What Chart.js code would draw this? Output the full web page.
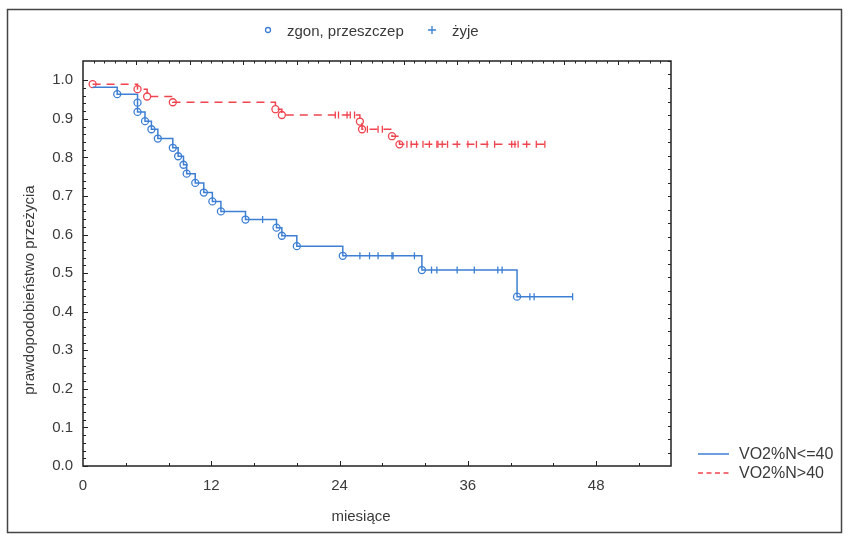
<!DOCTYPE html>
<html>
<head>
<meta charset="utf-8">
<script src="https://cdn.jsdelivr.net/npm/chart.js@4.4.1/dist/chart.umd.min.js"></script>
<style>
body { margin: 0; background: #fff; }
#wrap { width: 848px; height: 536px; position: relative; }
</style>
</head>
<body>
<div id="wrap"><canvas id="kmChart"></canvas></div>
<script>
// axis ticks
const xTicks = [0, 12, 24, 36, 48];
const yTicks = [0.0, 0.1, 0.2, 0.3, 0.4, 0.5, 0.6, 0.7, 0.8, 0.9, 1.0];

// VO2%N<=40 : event times (months) and survival after each event
const lowTimes = [0.9, 3.2, 5.1, 5.1, 5.8, 6.4, 7.0, 8.4, 8.9, 9.4, 9.7, 10.5, 11.3, 12.1, 12.9, 15.2, 18.1, 18.6, 20.0, 24.3, 31.7, 40.6];
const lowSurv = [0.982, 0.964, 0.942, 0.918, 0.894, 0.873, 0.849, 0.825, 0.803, 0.781, 0.758, 0.734, 0.709, 0.686, 0.660, 0.639, 0.618, 0.597, 0.570, 0.545, 0.508, 0.439];
const lowCensored = [16.8, 25.9, 26.8, 27.6, 28.9, 29.0, 31.0, 32.6, 33.1, 35.0, 36.6, 38.8, 39.2, 41.8, 42.2, 45.8];

// VO2%N>40
const highTimes = [0.9, 5.1, 6.0, 8.4, 18.0, 18.6, 25.9, 26.1, 28.9, 29.6];
const highSurv = [0.990, 0.977, 0.958, 0.943, 0.925, 0.910, 0.893, 0.873, 0.855, 0.834];
const highCensored = [23.6, 23.9, 24.7, 25.0, 25.4, 26.6, 27.6, 28.0, 30.3, 30.7, 31.2, 31.8, 32.4, 33.1, 33.2, 33.6, 34.1, 35.0, 36.0, 36.8, 37.8, 38.5, 40.1, 40.4, 40.7, 41.5, 42.4, 43.2];

const BLUE = '#3d7fd3';
const RED = '#f0444f';
const FONT = '"Liberation Sans", Arial, sans-serif';

// survival level of a step curve at time t
function levelAt(times, surv, t) {
    let s = surv[0];
    times.forEach((tt, i) => { if (tt <= t) s = surv[i]; });
    return s;
}

function curvePoints(times, surv, censored) {
    const pts = times.map((t, i) => ({ x: t, y: surv[i] }));
    const end = censored[censored.length - 1];
    pts.push({ x: end, y: levelAt(times, surv, end) });
    return pts;
}

function eventPoints(times, surv) {
    return times.map((t, i) => ({ x: t, y: surv[i] }));
}

function censorPoints(times, surv, censored) {
    return censored.map(t => ({ x: t, y: levelAt(times, surv, t) }));
}

// frame, inward ticks, axis titles and both legends
const decorations = {
    id: 'decorations',
    afterDraw(chart) {
        const ctx = chart.ctx;
        const a = chart.chartArea;
        const xs = chart.scales.x;
        const ys = chart.scales.y;
        ctx.save();

        // outer frame
        ctx.strokeStyle = '#444';
        ctx.lineWidth = 1.5;
        ctx.strokeRect(7.5, 9.5, 834, 523);

        // plot box
        ctx.strokeStyle = '#222';
        ctx.lineWidth = 1.5;
        ctx.strokeRect(a.left, a.top, a.right - a.left, a.bottom - a.top);

        ctx.lineWidth = 1;
        ctx.beginPath();
        for (let v = 0; v <= 1.0001; v += 0.02) {
            const y = Math.round(ys.getPixelForValue(v)) + 0.5;
            const major = Math.abs(v * 10 - Math.round(v * 10)) < 0.001;
            ctx.moveTo(a.left, y);
            ctx.lineTo(a.left + (major ? 5 : 3), y);
        }
        for (let v = 1.05; v > 0; v -= 0.035) {
            const y = Math.round(ys.getPixelForValue(v)) + 0.5;
            ctx.moveTo(a.right, y);
            ctx.lineTo(a.right - 3, y);
        }
        for (let m = 4; m < xs.max; m += 4) {
            const x = Math.round(xs.getPixelForValue(m)) + 0.5;
            ctx.moveTo(x, a.bottom);
            ctx.lineTo(x, a.bottom - (m % 12 === 0 ? 5 : 3));
        }
        for (let m = 1; m < xs.max; m += 1) {
            const x = Math.round(xs.getPixelForValue(m)) + 0.5;
            ctx.moveTo(x, a.top);
            ctx.lineTo(x, a.top + (m % 5 === 0 ? 4 : 2.5));
        }
        ctx.stroke();

        // axis titles
        ctx.fillStyle = '#3a3a3a';
        ctx.font = '15px ' + FONT;
        ctx.textAlign = 'center';
        ctx.textBaseline = 'middle';
        ctx.fillText('miesiące', 361, 517);
        ctx.save();
        ctx.translate(30, 290);
        ctx.rotate(-Math.PI / 2);
        ctx.fillText('prawdopodobieństwo przeżycia', 0, 0);
        ctx.restore();

        // top legend: markers
        ctx.textAlign = 'left';
        ctx.font = '15px ' + FONT;
        ctx.strokeStyle = BLUE;
        ctx.lineWidth = 1.3;
        ctx.beginPath();
        ctx.arc(268, 30, 2.5, 0, Math.PI * 2);
        ctx.stroke();
        ctx.fillText('zgon, przeszczep', 287, 32);
        ctx.beginPath();
        ctx.moveTo(428, 30); ctx.lineTo(436, 30);
        ctx.moveTo(432, 26); ctx.lineTo(432, 34);
        ctx.stroke();
        ctx.fillText('żyje', 452, 32);

        // bottom-right legend: lines
        ctx.font = '16px ' + FONT;
        ctx.lineWidth = 1.5;
        ctx.strokeStyle = BLUE;
        ctx.beginPath();
        ctx.moveTo(698, 454); ctx.lineTo(729, 454);
        ctx.stroke();
        ctx.fillText('VO2%N<=40', 739, 455);
        ctx.strokeStyle = RED;
        ctx.setLineDash([5, 3.5]);
        ctx.beginPath();
        ctx.moveTo(698, 473); ctx.lineTo(729, 473);
        ctx.stroke();
        ctx.setLineDash([]);
        ctx.fillText('VO2%N>40', 739, 474);

        ctx.restore();
    }
};

const ctx = document.getElementById('kmChart').getContext('2d');
new Chart(ctx, {
    type: 'scatter',
    data: {
        datasets: [
            {
                label: 'VO2%N<=40',
                data: curvePoints(lowTimes, lowSurv, lowCensored),
                showLine: true,
                stepped: 'before',
                borderColor: BLUE,
                borderWidth: 1.5,
                pointRadius: 0
            },
            {
                label: 'VO2%N>40',
                data: curvePoints(highTimes, highSurv, highCensored),
                showLine: true,
                stepped: 'before',
                borderColor: RED,
                borderWidth: 1.5,
                borderDash: [8, 6],
                pointRadius: 0
            },
            {
                // first blue step has no visible circle
                label: 'zgon, przeszczep (<=40)',
                data: eventPoints(lowTimes.slice(1), lowSurv.slice(1)),
                pointStyle: 'circle',
                pointRadius: 3.5,
                borderWidth: 1.3,
                borderColor: BLUE,
                backgroundColor: 'rgba(255,255,255,0)'
            },
            {
                label: 'żyje (<=40)',
                data: censorPoints(lowTimes, lowSurv, lowCensored),
                pointStyle: 'line',
                rotation: 90,
                pointRadius: 3.5,
                borderWidth: 1.3,
                borderColor: BLUE
            },
            {
                label: 'zgon, przeszczep (>40)',
                data: eventPoints(highTimes, highSurv),
                pointStyle: 'circle',
                pointRadius: 3.5,
                borderWidth: 1.3,
                borderColor: RED,
                backgroundColor: 'rgba(255,255,255,0)'
            },
            {
                label: 'żyje (>40)',
                data: censorPoints(highTimes, highSurv, highCensored),
                pointStyle: 'line',
                rotation: 90,
                pointRadius: 3.5,
                borderWidth: 1.3,
                borderColor: RED
            }
        ]
    },
    options: {
        responsive: true,
        maintainAspectRatio: false,
        animation: false,
        layout: { padding: { top: 61, right: 177, bottom: 0, left: 0 } },
        scales: {
            x: {
                type: 'linear',
                min: 0,
                max: 55,
                afterBuildTicks: scale => { scale.ticks = xTicks.map(v => ({ value: v })); },
                afterFit: scale => { scale.height = 70; },
                grid: { display: false, drawTicks: false },
                border: { display: false },
                ticks: {
                    padding: 11,
                    color: '#3a3a3a',
                    font: { family: FONT, size: 15 },
                    callback: v => String(v)
                }
            },
            y: {
                min: 0,
                max: 1.05,
                afterBuildTicks: scale => { scale.ticks = yTicks.map(v => ({ value: v })); },
                afterFit: scale => { scale.width = 83; },
                grid: { display: false, drawTicks: false },
                border: { display: false },
                ticks: {
                    padding: 10,
                    color: '#3a3a3a',
                    font: { family: FONT, size: 15 },
                    callback: v => Number(v).toFixed(1)
                }
            }
        },
        plugins: {
            legend: { display: false },
            title: { display: false },
            tooltip: { enabled: false }
        }
    },
    plugins: [decorations]
});
</script>
</body>
</html>
